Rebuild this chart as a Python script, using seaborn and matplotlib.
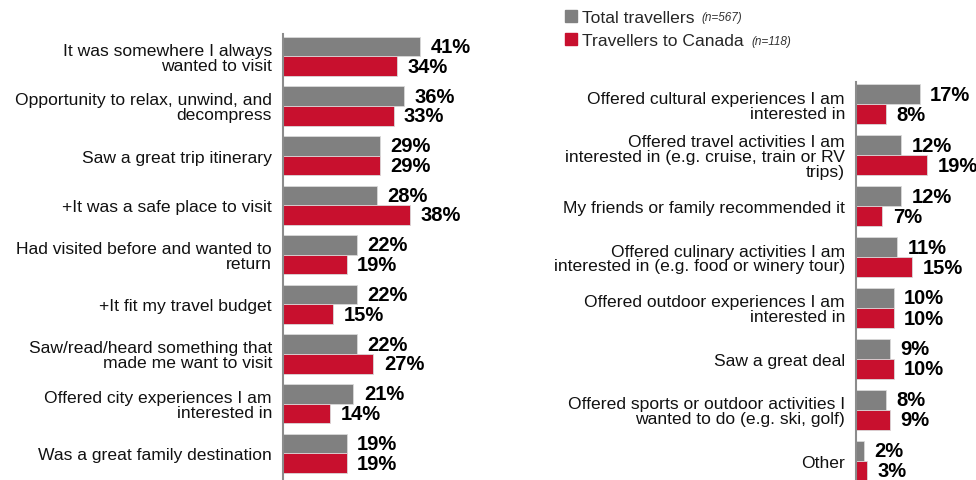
import pandas as pd
import seaborn as sns
import matplotlib.pyplot as plt

# --- data ---
left_reasons = [
    "It was somewhere I always\nwanted to visit",
    "Opportunity to relax, unwind, and\ndecompress",
    "Saw a great trip itinerary",
    "+It was a safe place to visit",
    "Had visited before and wanted to\nreturn",
    "+It fit my travel budget",
    "Saw/read/heard something that\nmade me want to visit",
    "Offered city experiences I am\ninterested in",
    "Was a great family destination",
]
left_total = [41, 36, 29, 28, 22, 22, 22, 21, 19]
left_canada = [34, 33, 29, 38, 19, 15, 27, 14, 19]

right_reasons = [
    "Offered cultural experiences I am\ninterested in",
    "Offered travel activities I am\ninterested in (e.g. cruise, train or RV\ntrips)",
    "My friends or family recommended it",
    "Offered culinary activities I am\ninterested in (e.g. food or winery tour)",
    "Offered outdoor experiences I am\ninterested in",
    "Saw a great deal",
    "Offered sports or outdoor activities I\nwanted to do (e.g. ski, golf)",
    "Other",
]
right_total = [17, 12, 12, 11, 10, 9, 8, 2]
right_canada = [8, 19, 7, 15, 10, 10, 9, 3]

groups = ["Total travellers", "Travellers to Canada"]
group_notes = ["(n=567)", "(n=118)"]
colors = ["#808080", "#C8102E"]


def to_long(reasons, total, canada):
    df = pd.DataFrame({"reason": reasons, groups[0]: total, groups[1]: canada})
    return df.melt(id_vars="reason", var_name="group", value_name="pct")


sns.set_theme(style="white")
plt.rcParams["font.family"] = ["Liberation Sans", "DejaVu Sans"]

W, H = 976, 481
fig = plt.figure(figsize=(W / 100, H / 100), dpi=100)

# axes rectangles in pixels: spine x, top y, px per percent
ax_l = fig.add_axes([283 / W, 0, 50 * 3.35 / W, 1 - 35 / H])
ax_r = fig.add_axes([856 / W, 0, 30 * 3.75 / W, 1 - 83 / H])


def draw(ax, reasons, total, canada, xmax, ylim):
    df = to_long(reasons, total, canada)
    sns.barplot(data=df, y="reason", x="pct", hue="group", order=reasons,
                hue_order=groups, palette=colors, saturation=1, orient="h",
                width=0.79, edgecolor="#d9d9d9", linewidth=0.6, ax=ax,
                legend=False)
    for cont in ax.containers:
        ax.bar_label(cont, fmt="%d%%", padding=7.5, fontsize=14.5,
                     fontweight="bold", color="black", clip_on=False)
    ax.set_xlim(0, xmax)
    ax.set_ylim(*ylim)
    ax.set_xlabel("")
    ax.set_ylabel("")
    ax.set_xticks([])
    ax.tick_params(axis="y", length=0, pad=8, labelsize=12.6, labelcolor="#111111")
    for lab in ax.get_yticklabels():
        lab.set_linespacing(0.98)
    for s in ["top", "right", "bottom"]:
        ax.spines[s].set_visible(False)
    ax.spines["left"].set_color("#8c8c8c")
    ax.spines["left"].set_linewidth(1.5)
    ax.patch.set_alpha(0)


draw(ax_l, left_reasons, left_total, left_canada, 50, (8.54, -0.45))
draw(ax_r, right_reasons, right_total, right_canada, 30, (7.38, -0.44))

handles = [plt.Rectangle((0, 0), 1, 1, color=c) for c in colors]
leg = fig.legend(handles, groups, loc="upper left",
                 bbox_to_anchor=(565 / W, 1 - 11 / H), frameon=False,
                 fontsize=12.6, handlelength=0.7, handleheight=0.7,
                 handletextpad=0.3, labelspacing=0.45, borderpad=0,
                 borderaxespad=0)
fig.canvas.draw()
for txt, note in zip(leg.get_texts(), group_notes):
    fig.add_artist(plt.Annotation(note, xy=(1, 0.12), xycoords=txt,
                                  xytext=(5, 0), textcoords="offset points",
                                  fontsize=8.5, fontstyle="italic",
                                  color="#333333", va="bottom"))

fig.savefig("out.png", dpi=100)
